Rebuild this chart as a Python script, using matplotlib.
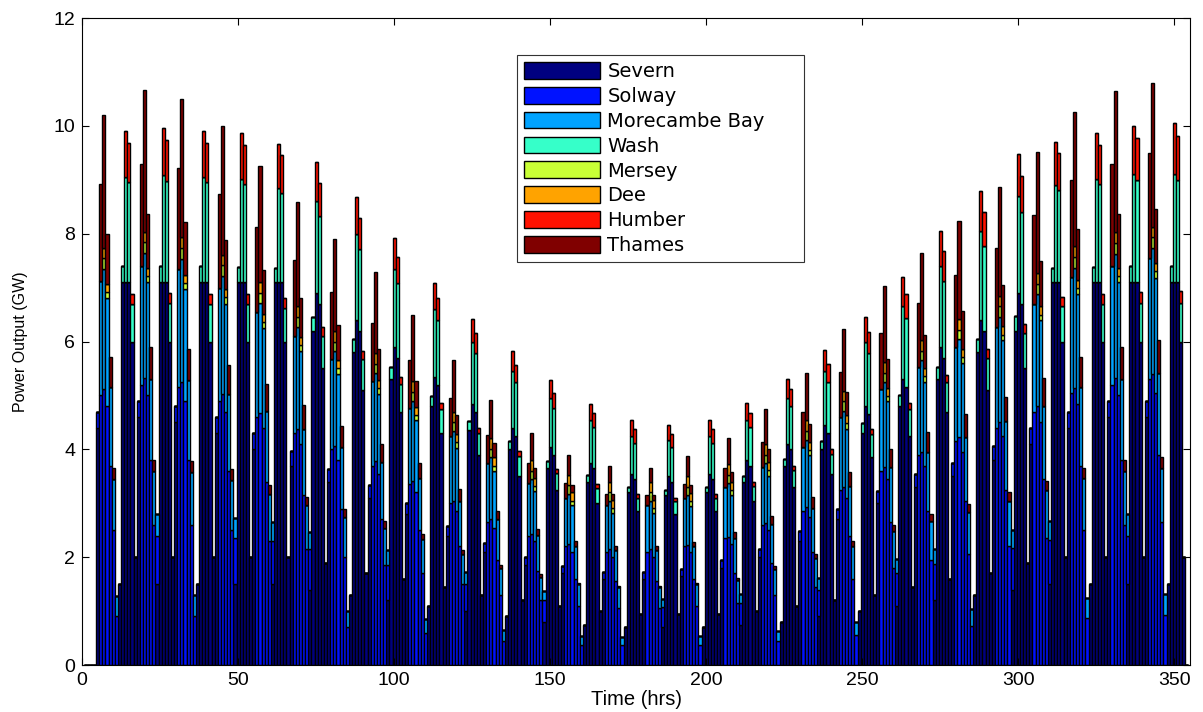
import numpy as np
import matplotlib.pyplot as plt

# hourly output of each barrage, read off the chart as runs of bars:
# (first hour, [GW for that hour and the following ones])
N_HOURS = 354
SITES = ["Severn", "Solway", "Morecambe Bay", "Wash",
         "Mersey", "Dee", "Humber", "Thames"]
# MATLAB jet(8), the default bar colours of the original figure
SITE_COLORS = [(0, 0, 0.5), (0, 0.07, 1), (0, 0.64, 1), (0.21, 1, 0.79),
               (0.79, 1, 0.21), (1, 0.64, 0), (1, 0.07, 0), (0.5, 0, 0)]

SEVERN = [
    (5, [4.4]), (12, [1.5, 7.1, 7.1, 7.1, 6.0, 2.0]),
    (18, [4.6]), (24, [1.5, 7.1, 7.1, 7.1, 6.0, 2.0]),
    (30, [4.5]), (37, [1.5, 7.1, 7.1, 7.1, 6.0, 2.0]),
    (43, [4.3]), (49, [1.5, 7.1, 7.1, 7.1, 6.0, 2.0]),
    (55, [4.0]), (61, [1.5, 7.1, 7.1, 7.1, 6.0, 2.0]),
    (67, [3.7]), (73, [1.4, 6.2, 6.9, 6.7, 5.5, 1.9]),
    (79, [3.4]), (86, [1.3, 5.8, 6.4, 6.2, 5.1, 1.7]),
    (92, [3.1]), (98, [1.2, 5.3, 5.9, 5.7, 4.7, 1.6]),
    (104, [2.8]), (111, [1.1, 4.8, 5.35, 5.2, 4.3, 1.45]),
    (117, [2.4]), (123, [1.0, 4.35, 4.85, 4.7, 3.9, 1.3]),
    (129, [2.1]), (136, [0.9, 4.0, 4.4, 4.25, 3.5, 1.2]),
    (142, [1.85]), (148, [0.8, 3.65, 4.05, 3.9, 3.25, 1.1]),
    (154, [1.7]), (161, [0.75, 3.4, 3.75, 3.65, 3.0, 1.0]),
    (167, [1.6]), (174, [0.7, 3.2, 3.55, 3.45, 2.85, 0.95]),
    (180, [1.6]), (186, [0.7, 3.15, 3.5, 3.4, 2.8, 0.95]),
    (192, [1.65]), (199, [0.7, 3.2, 3.55, 3.45, 2.85, 0.95]),
    (205, [1.8]), (211, [0.75, 3.4, 3.8, 3.7, 3.05, 1.0]),
    (217, [2.0]), (224, [0.8, 3.7, 4.1, 4.0, 3.3, 1.1]),
    (230, [2.3]), (236, [0.9, 4.0, 4.45, 4.3, 3.55, 1.2]),
    (242, [2.7]), (249, [1.0, 4.3, 4.8, 4.65, 3.85, 1.3]),
    (255, [3.0]), (261, [1.1, 4.8, 5.3, 5.15, 4.25, 1.45]),
    (267, [3.3]), (273, [1.2, 5.3, 5.9, 5.7, 4.7, 1.6]),
    (279, [3.5]), (286, [1.3, 5.8, 6.4, 6.2, 5.1, 1.7]),
    (292, [3.8]), (298, [1.4, 6.2, 6.9, 6.7, 5.5, 1.9]),
    (304, [4.1]), (310, [1.5, 7.1, 7.1, 7.1, 6.0, 2.0]),
    (316, [4.4]), (323, [1.5, 7.1, 7.1, 7.1, 6.0, 2.0]),
    (329, [4.6]), (335, [1.5, 7.1, 7.1, 7.1, 6.0, 2.0]),
    (341, [4.6]), (348, [1.5, 7.1, 7.1, 7.1, 6.0, 2.0]),
]

SOLWAY = [
    (5, [0.3, 5.0, 5.12, 4.8, 3.7, 2.5, 0.9]), (18, [0.3, 5.2, 5.33, 5.0, 3.8, 2.6, 0.9]),
    (30, [0.3, 5.15, 5.25, 4.9, 3.8, 2.6, 0.9]), (43, [0.3, 4.9, 5.03, 4.7, 3.6, 2.5, 0.85]),
    (55, [0.3, 4.6, 4.68, 4.4, 3.4, 2.3, 0.8]), (67, [0.26, 4.3, 4.38, 4.1, 3.15, 2.15, 0.75]),
    (79, [0.24, 4.0, 4.07, 3.8, 2.9, 2.0, 0.7]), (92, [0.23, 3.7, 3.78, 3.55, 2.7, 1.85, 0.65]),
    (104, [0.2, 3.35, 3.42, 3.2, 2.5, 1.7, 0.6]), (117, [0.18, 3.0, 3.04, 2.85, 2.2, 1.5, 0.5]),
    (129, [0.16, 2.65, 2.7, 2.55, 1.95, 1.3, 0.45]), (142, [0.15, 2.4, 2.43, 2.3, 1.75, 1.2, 0.4]),
    (154, [0.13, 2.2, 2.24, 2.1, 1.6, 1.1, 0.38]), (167, [0.13, 2.1, 2.15, 2.0, 1.55, 1.05, 0.37]),
    (180, [0.13, 2.1, 2.15, 2.0, 1.55, 1.05, 0.37]), (192, [0.13, 2.2, 2.23, 2.1, 1.6, 1.1, 0.38]),
    (205, [0.14, 2.35, 2.38, 2.25, 1.7, 1.15, 0.4]), (217, [0.16, 2.6, 2.63, 2.5, 1.9, 1.3, 0.45]),
    (230, [0.18, 2.85, 2.93, 2.75, 2.1, 1.45, 0.5]), (242, [0.2, 3.25, 3.31, 3.1, 2.4, 1.6, 0.55]),
    (255, [0.22, 3.6, 3.67, 3.45, 2.65, 1.8, 0.6]), (267, [0.24, 3.9, 3.95, 3.7, 2.85, 1.95, 0.67]),
    (279, [0.25, 4.15, 4.22, 3.95, 3.05, 2.05, 0.72]), (292, [0.27, 4.4, 4.51, 4.25, 3.25, 2.2, 0.77]),
    (304, [0.29, 4.7, 4.8, 4.5, 3.45, 2.35, 0.82]), (316, [0.3, 5.05, 5.14, 4.85, 3.7, 2.5, 0.87]),
    (329, [0.3, 5.2, 5.32, 5.0, 3.8, 2.6, 0.9]), (341, [0.3, 5.3, 5.39, 5.05, 3.9, 2.65, 0.92]),
]

MORECAMBE = [
    (6, [2.13, 2.22, 2.0, 1.45, 0.95, 0.38]), (19, [2.2, 2.31, 2.1, 1.5, 1.0, 0.4]),
    (31, [2.2, 2.28, 2.07, 1.48, 0.98, 0.39]), (44, [2.1, 2.18, 2.0, 1.42, 0.94, 0.37]),
    (56, [1.95, 2.03, 1.85, 1.32, 0.87, 0.35]), (68, [1.8, 1.89, 1.72, 1.23, 0.81, 0.32]),
    (80, [1.68, 1.75, 1.6, 1.14, 0.75, 0.3]), (93, [1.56, 1.63, 1.48, 1.06, 0.7, 0.28]),
    (105, [1.41, 1.47, 1.34, 0.96, 0.63, 0.25]), (118, [1.25, 1.3, 1.18, 0.85, 0.56, 0.22]),
    (130, [1.1, 1.15, 1.05, 0.75, 0.49, 0.2]), (143, [0.98, 1.02, 0.93, 0.66, 0.44, 0.17]),
    (155, [0.9, 0.94, 0.86, 0.61, 0.4, 0.16]), (168, [0.86, 0.9, 0.82, 0.59, 0.39, 0.15]),
    (181, [0.86, 0.9, 0.82, 0.59, 0.39, 0.15]), (193, [0.89, 0.93, 0.85, 0.6, 0.4, 0.16]),
    (206, [0.96, 1.0, 0.91, 0.65, 0.43, 0.17]), (218, [1.07, 1.11, 1.01, 0.72, 0.48, 0.19]),
    (231, [1.2, 1.25, 1.14, 0.81, 0.54, 0.21]), (243, [1.35, 1.41, 1.28, 0.92, 0.61, 0.24]),
    (256, [1.52, 1.58, 1.44, 1.03, 0.68, 0.27]), (268, [1.63, 1.7, 1.55, 1.1, 0.73, 0.29]),
    (280, [1.75, 1.82, 1.66, 1.18, 0.78, 0.31]), (293, [1.87, 1.95, 1.77, 1.27, 0.84, 0.33]),
    (305, [2.0, 2.08, 1.89, 1.35, 0.89, 0.35]), (317, [2.14, 2.23, 2.03, 1.45, 0.96, 0.38]),
    (330, [2.2, 2.31, 2.1, 1.5, 1.0, 0.4]), (342, [2.25, 2.34, 2.13, 1.52, 1.0, 0.4]),
]

WASH = [
    (13, [0.3, 1.95, 1.85, 0.7]), (25, [0.3, 1.98, 1.88, 0.71]),
    (38, [0.3, 1.95, 1.85, 0.7]), (50, [0.29, 1.92, 1.82, 0.69]),
    (62, [0.26, 1.75, 1.66, 0.63]), (74, [0.26, 1.7, 1.62, 0.61]),
    (87, [0.24, 1.6, 1.52, 0.58]), (99, [0.22, 1.45, 1.38, 0.52]),
    (112, [0.19, 1.25, 1.19, 0.45]), (124, [0.17, 1.15, 1.09, 0.41]),
    (137, [0.16, 1.05, 1.0, 0.38]), (149, [0.14, 0.9, 0.86, 0.32]),
    (162, [0.12, 0.8, 0.76, 0.29]), (175, [0.1, 0.7, 0.67, 0.25]),
    (187, [0.1, 0.68, 0.65, 0.24]), (200, [0.1, 0.7, 0.67, 0.25]),
    (212, [0.11, 0.75, 0.71, 0.27]), (225, [0.13, 0.85, 0.81, 0.31]),
    (237, [0.15, 1.0, 0.95, 0.36]), (250, [0.18, 1.2, 1.14, 0.43]),
    (262, [0.2, 1.35, 1.28, 0.49]), (274, [0.22, 1.5, 1.43, 0.54]),
    (287, [0.25, 1.65, 1.57, 0.59]), (299, [0.27, 1.8, 1.71, 0.65]),
    (311, [0.27, 1.8, 1.71, 0.65]), (324, [0.29, 1.92, 1.82, 0.69]),
    (336, [0.3, 2.0, 1.9, 0.72]), (349, [0.3, 2.0, 1.9, 0.72]),
]

MERSEY = [
    (7, [0.2, 0.12]), (20, [0.2, 0.12]), (32, [0.2, 0.12]), (45, [0.2, 0.12]),
    (57, [0.19, 0.11]), (69, [0.19, 0.11]), (81, [0.18, 0.11]), (94, [0.18, 0.11]),
    (106, [0.17, 0.1]), (119, [0.16, 0.1]), (131, [0.16, 0.1]), (144, [0.15, 0.09]),
    (156, [0.15, 0.09]), (169, [0.15, 0.09]), (182, [0.15, 0.09]), (194, [0.15, 0.09]),
    (207, [0.15, 0.09]), (219, [0.16, 0.1]), (232, [0.16, 0.1]), (244, [0.17, 0.1]),
    (257, [0.17, 0.1]), (269, [0.18, 0.11]), (281, [0.18, 0.11]), (294, [0.19, 0.11]),
    (306, [0.19, 0.11]), (318, [0.2, 0.12]), (331, [0.2, 0.12]), (343, [0.2, 0.12]),
]

DEE = [
    (7, [0.2, 0.15]), (20, [0.2, 0.15]), (32, [0.2, 0.15]), (45, [0.2, 0.15]),
    (57, [0.2, 0.15]), (69, [0.2, 0.15]), (81, [0.2, 0.15]), (94, [0.2, 0.15]),
    (106, [0.2, 0.15]), (119, [0.2, 0.15]), (131, [0.2, 0.15]), (144, [0.2, 0.15]),
    (156, [0.2, 0.15]), (169, [0.2, 0.15]), (182, [0.2, 0.15]), (194, [0.2, 0.15]),
    (207, [0.2, 0.15]), (219, [0.2, 0.15]), (232, [0.2, 0.15]), (244, [0.2, 0.15]),
    (257, [0.2, 0.15]), (269, [0.2, 0.15]), (281, [0.2, 0.15]), (294, [0.2, 0.15]),
    (306, [0.2, 0.15]), (318, [0.2, 0.15]), (331, [0.2, 0.15]), (343, [0.2, 0.15]),
]

HUMBER = [
    (14, [0.86, 0.73, 0.19]), (26, [0.88, 0.75, 0.19]), (39, [0.86, 0.73, 0.19]),
    (51, [0.85, 0.72, 0.19]), (63, [0.82, 0.7, 0.18]), (75, [0.73, 0.62, 0.16]),
    (88, [0.68, 0.58, 0.15]), (100, [0.57, 0.48, 0.13]), (113, [0.48, 0.41, 0.11]),
    (125, [0.42, 0.36, 0.09]), (138, [0.37, 0.31, 0.08]), (150, [0.34, 0.29, 0.07]),
    (163, [0.3, 0.26, 0.07]), (176, [0.3, 0.26, 0.07]), (188, [0.28, 0.24, 0.06]),
    (201, [0.3, 0.26, 0.07]), (213, [0.31, 0.26, 0.07]), (226, [0.35, 0.3, 0.08]),
    (238, [0.39, 0.33, 0.09]), (251, [0.46, 0.39, 0.1]), (263, [0.54, 0.46, 0.12]),
    (275, [0.65, 0.55, 0.14]), (288, [0.75, 0.64, 0.17]), (300, [0.78, 0.66, 0.17]),
    (312, [0.8, 0.68, 0.18]), (325, [0.85, 0.72, 0.19]), (337, [0.9, 0.77, 0.2]),
    (350, [0.95, 0.81, 0.21]),
]

THAMES = [
    (6, [1.8, 2.46, 0.93, 0.57, 0.2]), (19, [1.9, 2.62, 1.0, 0.6, 0.21]),
    (31, [1.87, 2.56, 0.97, 0.59, 0.2]), (44, [1.74, 2.39, 0.91, 0.55, 0.19]),
    (56, [1.57, 2.15, 0.82, 0.49, 0.17]), (68, [1.41, 1.93, 0.73, 0.44, 0.15]),
    (80, [1.24, 1.7, 0.65, 0.39, 0.14]), (93, [1.09, 1.49, 0.57, 0.34, 0.12]),
    (105, [0.9, 1.23, 0.47, 0.28, 0.1]), (118, [0.7, 0.96, 0.36, 0.22, 0.08]),
    (130, [0.51, 0.7, 0.27, 0.16, 0.06]), (143, [0.37, 0.51, 0.19, 0.12, 0.04]),
    (155, [0.27, 0.37, 0.14, 0.09, 0.03]), (168, [0.21, 0.29, 0.11, 0.07, 0.02]),
    (181, [0.19, 0.26, 0.1, 0.06, 0.02]), (193, [0.26, 0.36, 0.14, 0.08, 0.03]),
    (206, [0.35, 0.48, 0.18, 0.11, 0.04]), (218, [0.47, 0.64, 0.24, 0.15, 0.05]),
    (231, [0.64, 0.88, 0.33, 0.2, 0.07]), (243, [0.83, 1.14, 0.43, 0.26, 0.09]),
    (256, [1.03, 1.41, 0.54, 0.32, 0.11]), (268, [1.18, 1.62, 0.62, 0.37, 0.13]),
    (280, [1.33, 1.82, 0.69, 0.42, 0.15]), (293, [1.47, 2.01, 0.76, 0.46, 0.16]),
    (305, [1.64, 2.24, 0.85, 0.52, 0.18]), (317, [1.81, 2.48, 0.94, 0.57, 0.2]),
    (330, [1.9, 2.61, 0.99, 0.6, 0.21]), (342, [1.95, 2.67, 1.01, 0.61, 0.21]),
]


def to_hourly(runs):
    out = np.zeros(N_HOURS)
    for start, vals in runs:
        out[start - 1:start - 1 + len(vals)] += vals
    return out


hours = np.arange(1, N_HOURS + 1)
series = [to_hourly(r) for r in (SEVERN, SOLWAY, MORECAMBE, WASH,
                                 MERSEY, DEE, HUMBER, THAMES)]

fig = plt.figure(figsize=(12.03, 7.12), dpi=100)
ax = fig.add_axes([0.0682, 0.066, 0.921, 0.9087])

bottom = np.zeros(N_HOURS)
for name, vals, col in zip(SITES, series, SITE_COLORS):
    ax.bar(hours, vals, width=1.0, bottom=bottom, color=col,
           edgecolor='black', linewidth=1.0, label=name)
    bottom += vals

ax.set_xlim(0, 355)
ax.set_ylim(0, 12)
ax.set_xticks(range(0, 351, 50))
ax.set_yticks(range(0, 13, 2))
ax.tick_params(direction='in', top=True, right=True, length=5,
               labelsize=14, pad=5)
for lbl in ax.get_xticklabels() + ax.get_yticklabels():
    lbl.set_family(['Liberation Sans', 'DejaVu Sans'])
for sp in ax.spines.values():
    sp.set_linewidth(0.8)

ax.set_xlabel('Time (hrs)', fontsize=14.5, family=['Liberation Sans', 'DejaVu Sans'], labelpad=1)
ax.set_ylabel('Power Output (GW)', fontsize=11.5,
              family=['Liberation Sans Narrow', 'Liberation Sans', 'DejaVu Sans'], labelpad=18)

# legend box spans x 517..804 px, top at y 55 px
leg = ax.legend(loc='upper left', bbox_to_anchor=(0.3926, 0.60, 0.259, 0.3428),
                mode='expand', handlelength=3.9, handleheight=0.95,
                labelspacing=0.3, handletextpad=0.4, borderpad=0.35,
                borderaxespad=0, fancybox=False, framealpha=1,
                edgecolor='#333333', prop={'family': ['DejaVu Sans'], 'size': 14})
leg.get_frame().set_linewidth(0.8)

fig.savefig('out.png', dpi=100)
